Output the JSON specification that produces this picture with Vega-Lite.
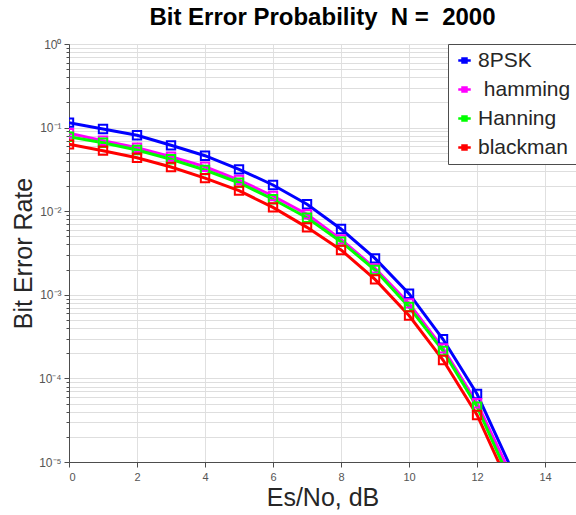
{
  "$schema": "https://vega.github.io/schema/vega-lite/v6.json",
  "autosize": {"type": "none"},
  "width": 507,
  "height": 418,
  "padding": {"left": 69, "top": 44, "right": 0, "bottom": 53},
  "background": "white",
  "title": {"text": "Bit Error Probability\u00a0\u00a0N =\u00a0\u00a02000", "fontSize": 24, "font": "Liberation Sans", "fontWeight": "bold", "color": "#000000", "offset": 8, "anchor": "middle"},
  "config": {"view": {"stroke": "#4d4d4d", "strokeWidth": 1}, "font": "Liberation Sans"},
  "data": {"values": [
    {"x": 0, "ber": 0.1145, "series": "8PSK"},
    {"x": 1, "ber": 0.0962, "series": "8PSK"},
    {"x": 2, "ber": 0.0809, "series": "8PSK"},
    {"x": 3, "ber": 0.0614, "series": "8PSK"},
    {"x": 4, "ber": 0.0461, "series": "8PSK"},
    {"x": 5, "ber": 0.0317, "series": "8PSK"},
    {"x": 6, "ber": 0.0206, "series": "8PSK"},
    {"x": 7, "ber": 0.0121, "series": "8PSK"},
    {"x": 8, "ber": 0.00612, "series": "8PSK"},
    {"x": 9, "ber": 0.00273, "series": "8PSK"},
    {"x": 10, "ber": 0.00103, "series": "8PSK"},
    {"x": 11, "ber": 0.000294, "series": "8PSK"},
    {"x": 12, "ber": 0.000065, "series": "8PSK"},
    {"x": 13, "ber": 0.0000085, "series": "8PSK"},
    {"x": 0, "ber": 0.0855, "series": "\u200b\u00a0hamming"},
    {"x": 1, "ber": 0.0697, "series": "\u200b\u00a0hamming"},
    {"x": 2, "ber": 0.0575, "series": "\u200b\u00a0hamming"},
    {"x": 3, "ber": 0.0449, "series": "\u200b\u00a0hamming"},
    {"x": 4, "ber": 0.0340, "series": "\u200b\u00a0hamming"},
    {"x": 5, "ber": 0.0236, "series": "\u200b\u00a0hamming"},
    {"x": 6, "ber": 0.0152, "series": "\u200b\u00a0hamming"},
    {"x": 7, "ber": 0.00918, "series": "\u200b\u00a0hamming"},
    {"x": 8, "ber": 0.00461, "series": "\u200b\u00a0hamming"},
    {"x": 9, "ber": 0.00207, "series": "\u200b\u00a0hamming"},
    {"x": 10, "ber": 0.00079, "series": "\u200b\u00a0hamming"},
    {"x": 11, "ber": 0.000229, "series": "\u200b\u00a0hamming"},
    {"x": 12, "ber": 0.0000504, "series": "\u200b\u00a0hamming"},
    {"x": 13, "ber": 0.0000070, "series": "\u200b\u00a0hamming"},
    {"x": 0, "ber": 0.0778, "series": "Hanning"},
    {"x": 1, "ber": 0.0659, "series": "Hanning"},
    {"x": 2, "ber": 0.0540, "series": "Hanning"},
    {"x": 3, "ber": 0.0418, "series": "Hanning"},
    {"x": 4, "ber": 0.0311, "series": "Hanning"},
    {"x": 5, "ber": 0.0219, "series": "Hanning"},
    {"x": 6, "ber": 0.0139, "series": "Hanning"},
    {"x": 7, "ber": 0.00836, "series": "Hanning"},
    {"x": 8, "ber": 0.00432, "series": "Hanning"},
    {"x": 9, "ber": 0.00198, "series": "Hanning"},
    {"x": 10, "ber": 0.000714, "series": "Hanning"},
    {"x": 11, "ber": 0.000213, "series": "Hanning"},
    {"x": 12, "ber": 0.0000458, "series": "Hanning"},
    {"x": 13, "ber": 0.0000057, "series": "Hanning"},
    {"x": 0, "ber": 0.0631, "series": "blackman"},
    {"x": 1, "ber": 0.0530, "series": "blackman"},
    {"x": 2, "ber": 0.0436, "series": "blackman"},
    {"x": 3, "ber": 0.0338, "series": "blackman"},
    {"x": 4, "ber": 0.0249, "series": "blackman"},
    {"x": 5, "ber": 0.0176, "series": "blackman"},
    {"x": 6, "ber": 0.0111, "series": "blackman"},
    {"x": 7, "ber": 0.00641, "series": "blackman"},
    {"x": 8, "ber": 0.00344, "series": "blackman"},
    {"x": 9, "ber": 0.00153, "series": "blackman"},
    {"x": 10, "ber": 0.000565, "series": "blackman"},
    {"x": 11, "ber": 0.000166, "series": "blackman"},
    {"x": 12, "ber": 0.0000365, "series": "blackman"},
    {"x": 13, "ber": 0.0000047, "series": "blackman"}
  ]},
  "encoding": {
    "x": {"field": "x", "type": "quantitative",
      "scale": {"domain": [0, 14.91], "nice": false, "zero": false},
      "axis": {"values": [0, 2, 4, 6, 8, 10, 12, 14], "title": "Es/No, dB", "titleFontSize": 25, "titleFontWeight": "normal", "titleColor": "#262626", "titleFont": "Liberation Sans", "titlePadding": 3,
        "labelFontSize": 11, "labelColor": "#555555", "labelPadding": 4, "tickSize": 5, "tickColor": "#4d4d4d", "domainColor": "#4d4d4d", "gridColor": "#e0e0e0", "gridWidth": 1}},
    "y": {"field": "ber", "type": "quantitative",
      "scale": {"type": "log", "domain": [0.00001, 1], "nice": false},
      "axis": {"values": [0.00001, 0.00002, 0.00003, 0.00004, 0.00005, 0.00006, 0.00007, 0.00008, 0.00009,
                          0.0001, 0.0002, 0.0003, 0.0004, 0.0005, 0.0006, 0.0007, 0.0008, 0.0009,
                          0.001, 0.002, 0.003, 0.004, 0.005, 0.006, 0.007, 0.008, 0.009,
                          0.01, 0.02, 0.03, 0.04, 0.05, 0.06, 0.07, 0.08, 0.09,
                          0.1, 0.2, 0.3, 0.4, 0.5, 0.6, 0.7, 0.8, 0.9, 1],
        "labelExpr": "abs(datum.value / pow(10, round(log(datum.value) / LN10)) - 1) < 0.000001 ? ['10⁰', '10⁻¹', '10⁻²', '10⁻³', '10⁻⁴', '10⁻⁵'][-round(log(datum.value) / LN10)] : ''",
        "title": "Bit Error Rate", "titleFontSize": 25, "titleFontWeight": "normal", "titleColor": "#262626", "titleFont": "Liberation Sans", "titlePadding": 2,
        "labelFontSize": 12, "labelColor": "#555555", "labelPadding": 3, "labelOverlap": false,
        "tickSize": {"condition": {"test": "abs(datum.value / pow(10, round(log(datum.value) / LN10)) - 1) < 0.000001", "value": 5}, "value": 3},
        "tickColor": "#4d4d4d", "domainColor": "#4d4d4d", "gridColor": "#dedede", "gridWidth": 1}},
    "color": {"field": "series", "type": "nominal",
      "scale": {"domain": ["8PSK", "\u200b\u00a0hamming", "Hanning", "blackman"], "range": ["#0000ff", "#ff00ff", "#00ff00", "#ff0000"]},
      "legend": {"title": null, "orient": "none", "legendX": 379, "legendY": 0, "labelFontSize": 21, "labelColor": "#262626", "labelFont": "Liberation Sans",
        "symbolType": "M-1,0H1M-0.32,-0.32H0.32V0.32H-0.32Z", "symbolSize": 156, "symbolStrokeWidth": 2.5, "symbolFillColor": "transparent",
        "rowPadding": 7, "padding": 6, "labelOffset": 3, "fillColor": "white", "strokeColor": "#4d4d4d"}}
  },
  "layer": [
    {"mark": {"type": "line", "strokeWidth": 3, "clip": true}},
    {"mark": {"type": "point", "shape": "square", "filled": false, "size": 70, "strokeWidth": 2, "clip": true, "opacity": 1}}
  ]
}
